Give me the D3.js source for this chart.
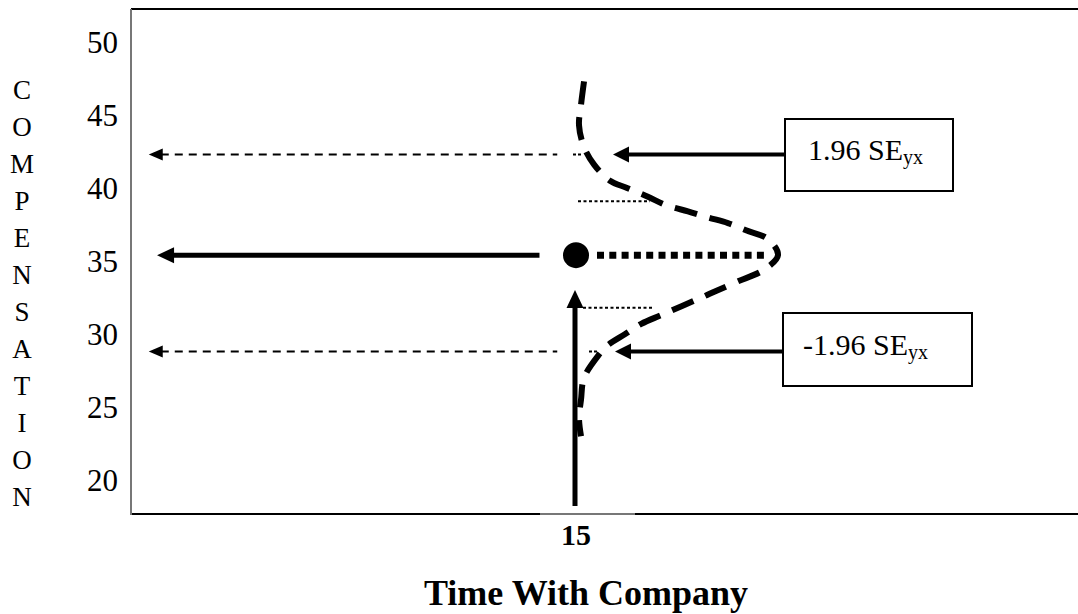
<!DOCTYPE html>
<html><head><meta charset="utf-8">
<script src="https://cdn.jsdelivr.net/npm/d3@7/dist/d3.min.js"></script>
<style>html,body{margin:0;padding:0;background:#fff;}svg{display:block;}</style>
</head><body><svg id="c" width="1078" height="614"></svg>
<script>
// ---- data ----
const yTicks = [20, 25, 30, 35, 40, 45, 50];
const xTicks = [15];
const yTitle = "COMPENSATION";
const xTitle = "Time With Company";
const predX = 15;            // time with company
const predY = 35.4;          // predicted compensation
const upperLimit = 42.3;     // +1.96 SEyx
const lowerLimit = 28.8;     // -1.96 SEyx
const seLines = [39.1, 31.8];
const boxLabels = ["1.96 SE", "-1.96 SE"];
const boxSub = "yx";
// distribution curve: compensation value and relative density
const curveComp = [47.3, 45.7, 44.3, 42.8, 41.6, 40.5, 40.0, 39.4, 38.8, 38.4, 38.0, 37.6, 37.1, 36.5, 35.4,
                   34.4, 33.6, 33.0, 32.5, 31.9, 31.3, 30.7, 30.0, 29.2, 28.6, 27.0, 25.5, 24.2, 23.0];
const curveDens = [0.035, 0.02, 0.01, 0.035, 0.085, 0.164, 0.249, 0.353, 0.448, 0.552, 0.647, 0.751, 0.841, 0.95, 1.0,
                   0.93, 0.80, 0.70, 0.62, 0.52, 0.42, 0.32, 0.24, 0.15, 0.11, 0.035, 0.02, 0.01, 0.02];

// ---- layout ----
const svg = d3.select("#c");
const W = 1078, frameL = 131, frameT = 9, frameB = 514;
const x = d3.scaleLinear().domain([0, 30]).range([131, 1019]);
const y = d3.scaleLinear().domain([20, 50]).range([480, 42]);
const dens = d3.scaleLinear().domain([0, 1]).range([x(predX) + 2, x(predX) + 203]);
const serif = "'Liberation Serif','Times New Roman',serif";

// frame
svg.append("line").attr("x1", frameL).attr("x2", W).attr("y1", frameT).attr("y2", frameT)
  .attr("stroke", "#000").attr("stroke-width", 2);
svg.append("line").attr("x1", frameL).attr("x2", W).attr("y1", frameB).attr("y2", frameB)
  .attr("stroke", "#000").attr("stroke-width", 2);
svg.append("line").attr("x1", x(predX) - 35).attr("x2", x(predX) + 60).attr("y1", frameB).attr("y2", frameB)
  .attr("stroke", "#777").attr("stroke-width", 2);
svg.append("line").attr("x1", frameL).attr("x2", frameL).attr("y1", frameT).attr("y2", frameB + 1)
  .attr("stroke", "#777").attr("stroke-width", 2);

// y tick labels
svg.selectAll(".yt").data(yTicks).enter().append("text")
  .attr("x", 118).attr("y", d => y(d)).attr("dy", "0.35em")
  .attr("text-anchor", "end").attr("font-family", serif).attr("font-size", 31)
  .text(d => d);

// y title (stacked letters)
svg.selectAll(".yl").data(yTitle.split("")).enter().append("text")
  .attr("x", 22).attr("y", (d, i) => 90 + i * 37).attr("dy", "0.35em")
  .attr("text-anchor", "middle").attr("font-family", serif).attr("font-size", 27)
  .text(d => d);

// x tick + title
svg.selectAll(".xt").data(xTicks).enter().append("text")
  .attr("x", d => x(d) + 1).attr("y", 545).attr("text-anchor", "middle")
  .attr("font-family", serif).attr("font-weight", "bold").attr("font-size", 30).text(d => d);
svg.append("text").attr("x", 586).attr("y", 605).attr("text-anchor", "middle")
  .attr("font-family", serif).attr("font-weight", "bold").attr("font-size", 36).text(xTitle);

function leftHead(tipX, yy, len, half) {
  svg.append("path").attr("d", `M${tipX},${yy}L${tipX + len},${yy - half}L${tipX + len},${yy + half}Z`).attr("fill", "#000");
}

// dashed limit arrows to the axis
[upperLimit, lowerLimit].forEach(v => {
  svg.append("line").attr("x1", x(0.6) + 12).attr("x2", x(14.4)).attr("y1", y(v)).attr("y2", y(v))
    .attr("stroke", "#000").attr("stroke-width", 2).attr("stroke-dasharray", "8,6");
  leftHead(x(0.6), y(v), 14, 6);
});
// tiny stubs
svg.append("line").attr("x1", x(predX) - 2).attr("x2", x(predX) + 6).attr("y1", y(upperLimit)).attr("y2", y(upperLimit))
  .attr("stroke", "#000").attr("stroke-width", 2).attr("stroke-dasharray", "3,2");
svg.append("line").attr("x1", x(predX) + 14).attr("x2", x(predX) + 22).attr("y1", y(lowerLimit)).attr("y2", y(lowerLimit))
  .attr("stroke", "#000").attr("stroke-width", 2).attr("stroke-dasharray", "3,2");

// main predicted arrow
svg.append("line").attr("x1", x(0.88) + 14).attr("x2", x(13.8)).attr("y1", y(predY)).attr("y2", y(predY))
  .attr("stroke", "#000").attr("stroke-width", 5);
leftHead(x(0.88), y(predY), 17, 8);

// vertical arrow
svg.append("line").attr("x1", x(predX)).attr("x2", x(predX)).attr("y1", 506).attr("y2", 300)
  .attr("stroke", "#000").attr("stroke-width", 5);
svg.append("path").attr("d", `M${x(predX)},${290}L${x(predX) - 8.5},${308}L${x(predX) + 8.5},${308}Z`).attr("fill", "#000");

// thin dotted SE lines
svg.append("line").attr("x1", x(predX) + 3).attr("x2", x(predX) + 75).attr("y1", y(seLines[0])).attr("y2", y(seLines[0]))
  .attr("stroke", "#000").attr("stroke-width", 2).attr("stroke-dasharray", "3,2.5");
svg.append("line").attr("x1", x(predX) + 8).attr("x2", x(predX) + 78).attr("y1", y(seLines[1])).attr("y2", y(seLines[1]))
  .attr("stroke", "#000").attr("stroke-width", 2).attr("stroke-dasharray", "3,2.5");

// distribution curve
const pts = curveComp.map((v, i) => ({v, d: curveDens[i]}));
svg.append("path").datum(pts)
  .attr("d", d3.line().x(p => dens(p.d)).y(p => y(p.v)).curve(d3.curveCatmullRom))
  .attr("fill", "none").attr("stroke", "#000").attr("stroke-width", 6).attr("stroke-dasharray", "23,13");

// thick dotted line from dot to peak
svg.append("line").attr("x1", x(predX) + 22).attr("x2", dens(0.95)).attr("y1", y(predY)).attr("y2", y(predY))
  .attr("stroke", "#000").attr("stroke-width", 7).attr("stroke-dasharray", "7,5.3");

// predicted point
svg.append("circle").attr("cx", x(predX) + 1).attr("cy", y(predY)).attr("r", 13).attr("fill", "#000");

// annotation boxes and arrows
const boxes = [
  {v: upperLimit, bx: 785, by: 119, bw: 168, bh: 72, tx: 808, ty: 160, tip: 613},
  {v: lowerLimit, bx: 783, by: 313, bw: 189, bh: 73, tx: 803, ty: 355, tip: 615}
];
boxes.forEach((b, i) => {
  svg.append("line").attr("x1", b.tip + 14).attr("x2", b.bx).attr("y1", y(b.v)).attr("y2", y(b.v))
    .attr("stroke", "#000").attr("stroke-width", 4);
  leftHead(b.tip, y(b.v), 16, 8);
  svg.append("rect").attr("x", b.bx).attr("y", b.by).attr("width", b.bw).attr("height", b.bh)
    .attr("fill", "#fff").attr("stroke", "#000").attr("stroke-width", 2);
  const t = svg.append("text").attr("x", b.tx).attr("y", b.ty).attr("font-family", serif).attr("font-size", 30);
  t.append("tspan").text(boxLabels[i]);
  t.append("tspan").attr("font-size", 20).attr("dy", 4).text(boxSub);
});
</script></body></html>
